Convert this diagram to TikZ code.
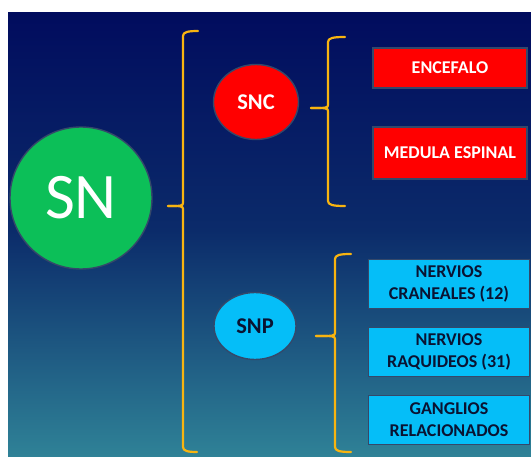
\documentclass[tikz,border=0pt]{standalone}
\usepackage{fontspec}
\setmainfont{Carlito}
\usetikzlibrary{shapes.geometric}
\definecolor{bgtop}{HTML}{010C5E}
\definecolor{bgmid}{HTML}{0B2B6A}
\definecolor{bgbot}{HTML}{2F8297}
\definecolor{bracegold}{HTML}{F8B410}
\definecolor{snred}{HTML}{FF0000}
\definecolor{sncyan}{HTML}{05BEF8}
\definecolor{sngreen}{HTML}{0CBF58}
\definecolor{rim}{HTML}{34486A}
\definecolor{darktext}{HTML}{0A1332}
\tikzset{
  brace/.style={draw=bracegold, line width=2.2pt, line cap=round, line join=round},
  rim/.style={draw=rim, line width=1.4pt},
  bigcircle/.style={circle, rim, fill=sngreen, minimum size=142pt, inner sep=0pt,
    text=white, font=\fontsize{65}{65}\selectfont},
  oval/.style={ellipse, rim, inner sep=0pt, font=\bfseries\fontsize{22.5}{22.5}\selectfont},
  redoval/.style={oval, fill=snred, text=white, minimum width=85pt, minimum height=75pt},
  cyanoval/.style={oval, fill=sncyan, text=darktext, minimum width=82pt, minimum height=67pt},
  itembox/.style={rectangle, rim, inner sep=0pt, align=center,
    font=\bfseries\fontsize{18}{22}\selectfont},
  redbox/.style={itembox, fill=snred, text=white, minimum width=154pt},
  cyanbox/.style={itembox, fill=sncyan, text=darktext, minimum width=161pt, minimum height=49pt}
}
\begin{document}
\begin{tikzpicture}[x=1pt, y=-1pt]
\useasboundingbox (0,0) rectangle (531,457);
\fill[white] (0,0) rectangle (531,457);
% background panel with its two-stage vertical gradient
\shade[top color=bgtop, bottom color=bgmid] (8,13) rectangle (531,231);
\shade[top color=bgmid, bottom color=bgbot] (8,230) rectangle (531,457);

% nodes
\node[bigcircle] (sn) at (81,198) {SN};
\node[redoval] (snc) at (256,102) {SNC};
\node[cyanoval] (snp) at (255,326) {SNP};
\node[redbox, minimum height=40pt] (enc) at (450,68) {ENCEFALO};
\node[redbox, minimum height=52pt] (med) at (450,153) {MEDULA ESPINAL};
\node[cyanbox] (crn) at (449,284) {NERVIOS\\CRANEALES (12)};
\node[cyanbox] (raq) at (449,352) {NERVIOS\\RAQUIDEOS (31)};
\node[cyanbox] (gan) at (449,420) {GANGLIOS\\RELACIONADOS};

% brace tips
\coordinate (tipA) at (168,206);
\coordinate (tipB) at (311,108);
\coordinate (tipC) at (316,336);

% brace: SN -> SNC / SNP
\draw[brace] (198,31) .. controls (188,31) and (183,32) .. (183,36)
  -- (183,203) .. controls (183,206) and (181,206) .. (tipA);
\draw[brace] (tipA) .. controls (181,206) and (183,206) .. (183,209)
  -- (183,447) .. controls (183,451) and (188,452) .. (197,452);
% brace: SNC -> items
\draw[brace] (345,37) .. controls (333,37) and (328,38) .. (328,42)
  -- (328,105) .. controls (328,108) and (326,108) .. (tipB);
\draw[brace] (tipB) .. controls (326,108) and (328,108) .. (328,111)
  -- (328,201) .. controls (328,205) and (333,206) .. (345,206);
% brace: SNP -> items
\draw[brace] (351,254) .. controls (340,254) and (335,255) .. (335,259)
  -- (335,333) .. controls (335,336) and (333,336) .. (tipC);
\draw[brace] (tipC) .. controls (333,336) and (335,336) .. (335,339)
  -- (335,447) .. controls (335,451) and (340,452) .. (351,452);
\end{tikzpicture}
\end{document}
